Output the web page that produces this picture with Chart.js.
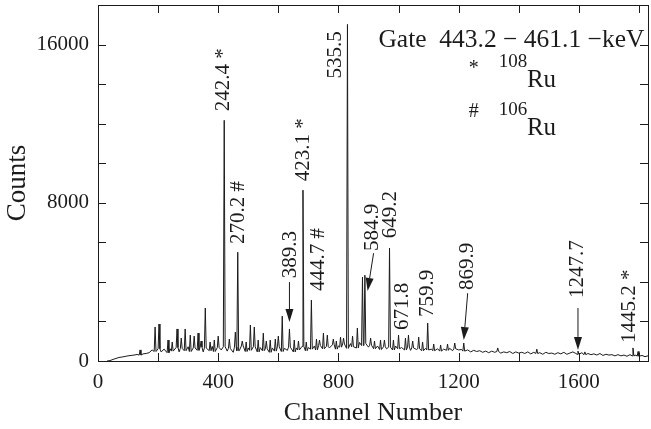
<!DOCTYPE html>
<html>
<head>
<meta charset="utf-8">
<script src="https://cdn.jsdelivr.net/npm/chart.js@4.4.0/dist/chart.umd.min.js"></script>
<style>
  html, body { margin: 0; padding: 0; background: #fff; }
</style>
</head>
<body>
<canvas id="myChart" width="651" height="429"></canvas>
<script>
// background of the spectrum, one reading every 10 channels from channel 30
const bgStart = 30;
const bgStep = 10;
const bgCounts = [
  0, 20, 80, 130, 180, 200, 230, 260, 280, 300,        // 30
  330, 300, 360, 380, 420, 560, 480, 620, 460, 600,    // 130
  420, 620, 500, 680, 460, 640, 520, 720, 480, 660,    // 230
  540, 700, 460, 660, 520, 740, 480, 680, 560, 720,    // 330
  500, 640, 440, 700, 520, 760, 480, 660, 540, 720,    // 430
  460, 680, 520, 620, 440, 660, 500, 720, 480, 640,    // 530
  540, 700, 460, 660, 560, 740, 520, 680, 600, 760,    // 630
  560, 780, 620, 740, 660, 820, 600, 760, 700, 860,    // 730
  640, 880, 720, 660, 940, 780, 880, 700, 800, 620,    // 830
  760, 580, 720, 620, 700, 560, 760, 620, 680, 560,    // 930
  700, 540, 660, 580, 620, 520, 640, 560, 600, 520,    // 1030
  620, 500, 600, 540, 640, 520, 620, 560, 580, 500,    // 1130
  560, 460, 540, 480, 520, 440, 500, 420, 500, 440,    // 1230
  480, 400, 460, 420, 480, 380, 460, 400, 440, 380,    // 1330
  460, 360, 440, 380, 420, 340, 440, 380, 400, 340,    // 1430
  420, 360, 440, 340, 400, 460, 380, 340, 420, 320,    // 1530
  380, 320, 360, 300, 380, 280, 340, 300, 320, 260,    // 1630
  320, 260, 300, 240, 320, 260, 300, 240, 280, 220,    // 1730
  260                                                  // 1830
];

// peaks: channel and top count
const peakChannels = [140, 190, 203, 233, 247, 263, 277, 290, 307, 320, 333, 343, 357, 373, 387, 400,
  420, 437, 457, 465, 480, 493, 507, 520, 533, 550, 560, 573, 590, 600, 613, 637, 653, 667, 682, 693,
  710, 727, 737, 750, 763, 783, 793, 807, 817, 830, 847, 863, 880, 888, 907, 920, 940, 953, 970, 983,
  1000, 1023, 1033, 1047, 1067, 1080, 1097, 1117, 1140, 1163, 1187, 1217, 1330, 1460, 1597, 1620, 1780, 1797];
const peakCounts = [560, 1720, 1870, 1060, 960, 1620, 1160, 1620, 1310, 1260, 1410, 1010, 2680, 960, 1060, 1260,
  12170, 1110, 1460, 5500, 1010, 960, 1820, 1720, 1060, 1410, 1010, 1060, 1110, 1260, 2270, 1620, 1060, 1010, 8640, 960,
  3080, 1110, 1060, 1410, 1310, 1110, 1010, 1210, 1160, 17020, 1260, 1670, 4240, 4340, 1160, 1010, 1060, 1060, 5710, 1060,
  1310, 1160, 1310, 1010, 1210, 960, 1920, 860, 810, 860, 910, 910, 660, 600, 500, 460, 660, 480];

// energy labels (text, channel, count where the text starts)
const labelTexts = ["242.4 *", "270.2 #", "389.3", "423.1 *", "444.7 #", "535.5", "584.9", "649.2",
  "671.8", "759.9", "869.9", "1247.7", "1445.2 *"];
const labelChannels = [417, 467, 640, 683, 733, 790, 913, 973, 1013, 1097, 1230, 1597, 1767];
const labelCounts = [12630, 5910, 4190, 9090, 3540, 14290, 5560, 6210, 1570, 2220, 3590, 3180, 910];

// arrows: from (channel, count) to (channel, count)
const arrowFromCh = [637, 917, 1230, 1597];
const arrowFromCount = [3990, 5450, 3430, 2680];
const arrowToCh = [637, 897, 1217, 1597];
const arrowToCount = [1970, 3540, 1060, 560];

const gateText = "Gate  443.2 \u2212 461.1 \u2212keV";
const nuclides = ["108", "106"];
const nuclideMarks = ["*", "#"];

const xTicks = [0, 200, 400, 600, 800, 1000, 1200, 1400, 1600, 1800];
const xTickLabels = [0, 400, 800, 1200, 1600];
const yTicks = [0, 2000, 4000, 6000, 8000, 10000, 12000, 14000, 16000, 18000];
const yTickLabels = [0, 8000, 16000];

const serif = "'Liberation Serif', 'DejaVu Serif', serif";
const ink = "#1b1b1b";

function bgAt(ch) {
  let i = Math.round((ch - bgStart) / bgStep);
  i = Math.max(0, Math.min(bgCounts.length - 1, i));
  return bgCounts[i];
}

let points = [];
bgCounts.forEach((c, i) => {
  const ch = bgStart + i * bgStep;
  if (peakChannels.some(p => Math.abs(p - ch) <= 4)) return;
  points.push({ x: ch, y: c });
});
peakChannels.forEach((ch, i) => {
  const base = bgAt(ch);
  points.push({ x: ch - 3, y: base }, { x: ch, y: peakCounts[i] }, { x: ch + 3, y: base });
});
points.sort((a, b) => a.x - b.x);

// box and inward ticks on all four sides
const frame = {
  id: "frame",
  afterDraw(chart) {
    const { ctx, chartArea: a, scales } = chart;
    ctx.save();
    ctx.strokeStyle = ink;
    ctx.lineWidth = 1;
    ctx.strokeRect(a.left + 0.5, a.top + 0.5, a.right - a.left, a.bottom - a.top);
    ctx.beginPath();
    xTicks.forEach(v => {
      if (v <= 0) return;
      const px = Math.round(scales.x.getPixelForValue(v)) + 0.5;
      ctx.moveTo(px, a.bottom); ctx.lineTo(px, a.bottom - 8);
      ctx.moveTo(px, a.top); ctx.lineTo(px, a.top + 8);
    });
    yTicks.forEach(v => {
      if (v <= 0 || v >= scales.y.max) return;
      const py = Math.round(scales.y.getPixelForValue(v)) + 0.5;
      ctx.moveTo(a.left, py); ctx.lineTo(a.left + 8, py);
      ctx.moveTo(a.right, py); ctx.lineTo(a.right - 8, py);
    });
    ctx.stroke();
    ctx.restore();
  }
};

const notes = {
  id: "notes",
  afterDatasetsDraw(chart) {
    const { ctx, scales } = chart;
    const X = v => scales.x.getPixelForValue(v);
    const Y = v => scales.y.getPixelForValue(v);
    ctx.save();
    ctx.fillStyle = ink;
    ctx.strokeStyle = ink;

    // rotated energy labels
    ctx.font = "21px " + serif;
    labelTexts.forEach((t, i) => {
      ctx.save();
      ctx.translate(X(labelChannels[i]), Y(labelCounts[i]));
      ctx.rotate(-Math.PI / 2);
      ctx.textAlign = "left";
      ctx.textBaseline = "middle";
      ctx.fillText(t, 0, 0);
      ctx.restore();
    });

    // arrows
    ctx.lineWidth = 1;
    arrowFromCh.forEach((c, i) => {
      const x0 = X(c), y0 = Y(arrowFromCount[i]);
      const x1 = X(arrowToCh[i]), y1 = Y(arrowToCount[i]);
      const ang = Math.atan2(y1 - y0, x1 - x0);
      const len = 13, half = 4;
      const bx = x1 - len * Math.cos(ang), by = y1 - len * Math.sin(ang);
      ctx.beginPath();
      ctx.moveTo(x0, y0); ctx.lineTo(bx, by);
      ctx.stroke();
      ctx.beginPath();
      ctx.moveTo(x1, y1);
      ctx.lineTo(bx + half * Math.sin(ang), by - half * Math.cos(ang));
      ctx.lineTo(bx - half * Math.sin(ang), by + half * Math.cos(ang));
      ctx.closePath();
      ctx.fill();
    });

    // gate text and nuclide key
    ctx.textAlign = "left";
    ctx.textBaseline = "alphabetic";
    ctx.font = "25.5px " + serif;
    ctx.fillText(gateText, X(933), Y(15860));

    const rows = [15000, 12580];
    nuclides.forEach((n, i) => {
      ctx.font = "20px " + serif;
      ctx.textAlign = "center";
      ctx.textBaseline = "middle";
      ctx.fillText(nuclideMarks[i], X(1250), Y(rows[i]) + (i === 0 ? 4 : 0));
      ctx.textAlign = "left";
      ctx.textBaseline = "alphabetic";
      ctx.font = "19px " + serif;
      ctx.fillText(n, X(1333), Y(rows[i]) + 3);
      ctx.font = "25px " + serif;
      ctx.fillText("Ru", X(1427), Y(rows[i]) + 23);
    });
    ctx.restore();
  }
};

const ctx = document.getElementById("myChart").getContext("2d");
const myChart = new Chart(ctx, {
  type: "scatter",
  data: {
    datasets: [{
      data: points,
      showLine: true,
      borderColor: ink,
      borderWidth: 1,
      pointRadius: 0,
      tension: 0,
      fill: false
    }]
  },
  options: {
    responsive: false,
    animation: false,
    devicePixelRatio: 1,
    layout: { padding: { top: 5, right: 3, left: 0, bottom: 0 } },
    plugins: { legend: { display: false }, tooltip: { enabled: false } },
    scales: {
      x: {
        type: "linear",
        min: 0,
        max: 1830,
        grid: { display: false, drawTicks: false },
        border: { display: false },
        afterBuildTicks: s => { s.ticks = xTicks.map(v => ({ value: v })); },
        ticks: {
          autoSkip: false,
          maxRotation: 0,
          minRotation: 0,
          padding: 9,
          color: ink,
          font: { family: serif, size: 21 },
          callback: v => (xTickLabels.includes(v) ? String(v) : "")
        },
        title: {
          display: true,
          text: "Channel Number",
          color: ink,
          font: { family: serif, size: 26 },
          padding: { top: 0, bottom: 0 }
        },
        afterFit: s => { s.height = 68; s.paddingLeft = 0; s.paddingRight = 0; }
      },
      y: {
        type: "linear",
        min: 0,
        max: 18000,
        grid: { display: false, drawTicks: false },
        border: { display: false },
        afterBuildTicks: s => { s.ticks = yTicks.map(v => ({ value: v })); },
        ticks: {
          autoSkip: false,
          padding: 9,
          color: ink,
          font: { family: serif, size: 21 },
          callback: v => (yTickLabels.includes(v) ? String(v) : "")
        },
        title: {
          display: true,
          text: "Counts",
          color: ink,
          font: { family: serif, size: 27 },
          padding: { top: 2, bottom: 0 }
        },
        afterFit: s => { s.width = 98; s.paddingTop = 0; s.paddingBottom = 0; }
      }
    }
  },
  plugins: [frame, notes]
});
</script>
</body>
</html>
